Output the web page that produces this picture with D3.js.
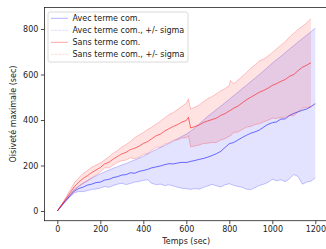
<!DOCTYPE html>
<html lang="en">
<head>
    <meta charset="UTF-8">
    <title>Oisiveté maximale</title>
    <script src="https://d3js.org/d3.v7.min.js"></script>
    <style>
        body { margin: 0; background: white; }
        text { font-family: "DejaVu Sans", sans-serif; font-size: 8px; fill: #222; }
    </style>
</head>
<body>
    <div id="chart"></div>
    <script>
        // times (sec) and values
        const blueT = [0, 20, 40, 60, 80, 100, 120, 140, 160, 180, 200, 220, 240, 260, 280, 300,
            320, 340, 360, 380, 400, 420, 440, 460, 480, 500, 520, 540, 560, 580, 600,
            620, 640, 660, 680, 700, 720, 740, 760, 780, 800, 820, 840, 860, 880, 900,
            920, 940, 960, 980, 1000, 1020, 1040, 1060, 1080, 1100, 1120, 1140, 1160, 1180, 1200];
        const blueMean = [0, 23, 46, 68, 88, 99, 105, 114, 118, 125, 127, 136, 139, 147, 151, 158,
            160, 168, 166, 174, 178, 183, 190, 194, 198, 204, 208, 207, 211, 214, 213,
            218, 222, 227, 231, 237, 244, 252, 262, 279, 296, 301, 312, 323, 333, 342,
            348, 356, 369, 381, 388, 392, 404, 405, 420, 429, 436, 443, 448, 459, 472];
        const blueUpper = [0, 25, 50, 74, 97, 110, 123, 134, 144, 154, 163, 172, 180, 188, 195, 202,
            209, 217, 224, 232, 241, 251, 261, 270, 279, 288, 297, 307, 318, 328, 338,
            351, 366, 383, 400, 416, 431, 446, 461, 476, 491, 507, 522, 538, 553, 569,
            584, 600, 616, 633, 650, 665, 680, 696, 712, 727, 743, 758, 773, 788, 804];
        const blueLower = [0, 21, 43, 63, 80, 86, 85, 90, 94, 97, 101, 108, 104, 112, 118, 122,
            116, 121, 127, 130, 135, 137, 121, 116, 118, 112, 115, 110, 104, 100, 98,
            95, 99, 96, 104, 110, 117, 111, 106, 115, 120, 113, 108, 104, 96, 94,
            103, 112, 118, 126, 140, 133, 137, 129, 142, 160, 152, 118, 127, 131, 146];

        const redT = [0, 20, 40, 60, 80, 100, 120, 140, 160, 180, 200, 220, 240, 260, 280, 300,
            320, 340, 360, 380, 400, 420, 440, 460, 480, 500, 520, 540, 560, 580, 600, 610,
            620, 640, 660, 680, 700, 720, 740, 760, 780, 800, 805, 820, 840, 860, 880, 900,
            920, 940, 960, 980, 1000, 1020, 1040, 1060, 1080, 1100, 1120, 1140, 1160, 1180];
        const redMean = [0, 27, 54, 81, 108, 127, 143, 155, 169, 180, 191, 207, 214, 228, 240, 251,
            258, 270, 276, 285, 297, 305, 318, 331, 338, 352, 362, 372, 380, 391, 398, 412,
            365, 371, 378, 389, 396, 402, 408, 420, 428, 440, 442, 452, 461, 475, 489, 500,
            511, 522, 530, 540, 552, 560, 570, 578, 592, 600, 617, 632, 641, 652];
        const redUpper = [0, 29, 60, 92, 125, 146, 165, 178, 192, 202, 211, 224, 238, 254, 266, 281,
            292, 306, 322, 334, 345, 358, 369, 382, 395, 410, 424, 433, 447, 460, 474, 493,
            448, 456, 466, 481, 494, 503, 515, 528, 538, 551, 574, 559, 575, 592, 609, 628,
            642, 660, 668, 681, 696, 713, 729, 744, 765, 781, 798, 812, 827, 846];
        const redLower = [0, 25, 48, 70, 91, 108, 121, 132, 146, 158, 171, 190, 190, 202, 214, 221,
            224, 234, 230, 236, 249, 252, 267, 280, 281, 294, 300, 311, 313, 322, 322, 331,
            282, 286, 290, 297, 298, 301, 301, 312, 318, 329, 330, 345, 347, 358, 369, 372,
            380, 384, 392, 399, 408, 407, 411, 412, 419, 419, 436, 452, 455, 458];

        const xTicks = [0, 200, 400, 600, 800, 1000, 1200];
        const yTicks = [0, 200, 400, 600, 800];
        const legendLabels = ["Avec terme com.", "Avec terme com., +/- sigma",
            "Sans terme com.", "Sans terme com., +/- sigma"];

        const width = 326, height = 249;
        const margin = {left: 44.4, top: 7.4, right: -2.2, bottom: 28.3};

        const svg = d3.select("#chart").append("svg")
            .attr("width", width)
            .attr("height", height);

        const x = d3.scaleLinear()
            .domain([-60, 1260])
            .range([margin.left, width - margin.right]);
        const y = d3.scaleLinear()
            .domain([-42.6, 895])
            .range([height - margin.bottom, margin.top]);

        const blue = "#0000ff", red = "#ff0000";

        function band(t, lo, hi, color) {
            const area = d3.area()
                .x((d, i) => x(t[i]))
                .y0((d, i) => y(lo[i]))
                .y1((d, i) => y(hi[i]));
            svg.append("path")
                .datum(t)
                .attr("d", area)
                .attr("fill", color)
                .attr("fill-opacity", 0.11);
            [lo, hi].forEach(vals => {
                svg.append("path")
                    .datum(vals)
                    .attr("d", d3.line().x((d, i) => x(t[i])).y(d => y(d)))
                    .attr("fill", "none")
                    .attr("stroke", color)
                    .attr("stroke-opacity", 0.22)
                    .attr("stroke-width", 1);
            });
        }

        function meanLine(t, vals, color) {
            svg.append("path")
                .datum(vals)
                .attr("d", d3.line().x((d, i) => x(t[i])).y(d => y(d)))
                .attr("fill", "none")
                .attr("stroke", color)
                .attr("stroke-opacity", 0.55)
                .attr("stroke-width", 1);
        }

        meanLine(blueT, blueMean, blue);
        band(blueT, blueLower, blueUpper, blue);
        meanLine(redT, redMean, red);
        band(redT, redLower, redUpper, red);

        // axes
        const xAxis = svg.append("g")
            .attr("transform", `translate(0,${height - margin.bottom})`)
            .call(d3.axisBottom(x).tickValues(xTicks).tickSize(3.5).tickPadding(2.5).tickFormat(d3.format("d")));
        const yAxis = svg.append("g")
            .attr("transform", `translate(${margin.left},0)`)
            .call(d3.axisLeft(y).tickValues(yTicks).tickSize(3.5).tickPadding(2.5).tickFormat(d3.format("d")));
        [xAxis, yAxis].forEach(a => {
            a.selectAll("text").style("font-size", "8px").attr("fill", "#222");
            a.selectAll("line").attr("stroke", "#222").attr("stroke-width", 0.8);
            a.select(".domain").remove();
        });

        // frame
        svg.append("rect")
            .attr("x", margin.left)
            .attr("y", margin.top)
            .attr("width", width - margin.right - margin.left)
            .attr("height", height - margin.bottom - margin.top)
            .attr("fill", "none")
            .attr("stroke", "#222")
            .attr("stroke-width", 0.8);

        svg.append("text")
            .attr("x", (margin.left + 328) / 2)
            .attr("y", 243.5)
            .attr("text-anchor", "middle")
            .text("Temps (sec)");
        svg.append("text")
            .attr("transform", `translate(15.5,${(margin.top + height - margin.bottom) / 2}) rotate(-90)`)
            .attr("text-anchor", "middle")
            .text("Oisiveté maximale (sec)");

        // legend
        const legend = svg.append("g").attr("transform", "translate(48,12)");
        legend.append("rect")
            .attr("width", 140)
            .attr("height", 50)
            .attr("rx", 2)
            .attr("fill", "white")
            .attr("fill-opacity", 0.8)
            .attr("stroke", "#d0d0d0")
            .attr("stroke-width", 0.8);
        const styles = [
            {color: blue, op: 0.3, dash: null},
            {color: blue, op: 0.15, dash: "2.5,1.2"},
            {color: red, op: 0.35, dash: null},
            {color: red, op: 0.15, dash: "2.5,1.2"}
        ];
        legendLabels.forEach((label, i) => {
            const gy = 6.3 + i * 12;
            legend.append("line")
                .attr("x1", 3).attr("x2", 20)
                .attr("y1", gy).attr("y2", gy)
                .attr("stroke", styles[i].color)
                .attr("stroke-opacity", styles[i].op)
                .attr("stroke-width", 1)
                .attr("stroke-dasharray", styles[i].dash);
            legend.append("text")
                .attr("x", 24.5)
                .attr("y", gy + 3)
                .text(label);
        });
    </script>
</body>
</html>
